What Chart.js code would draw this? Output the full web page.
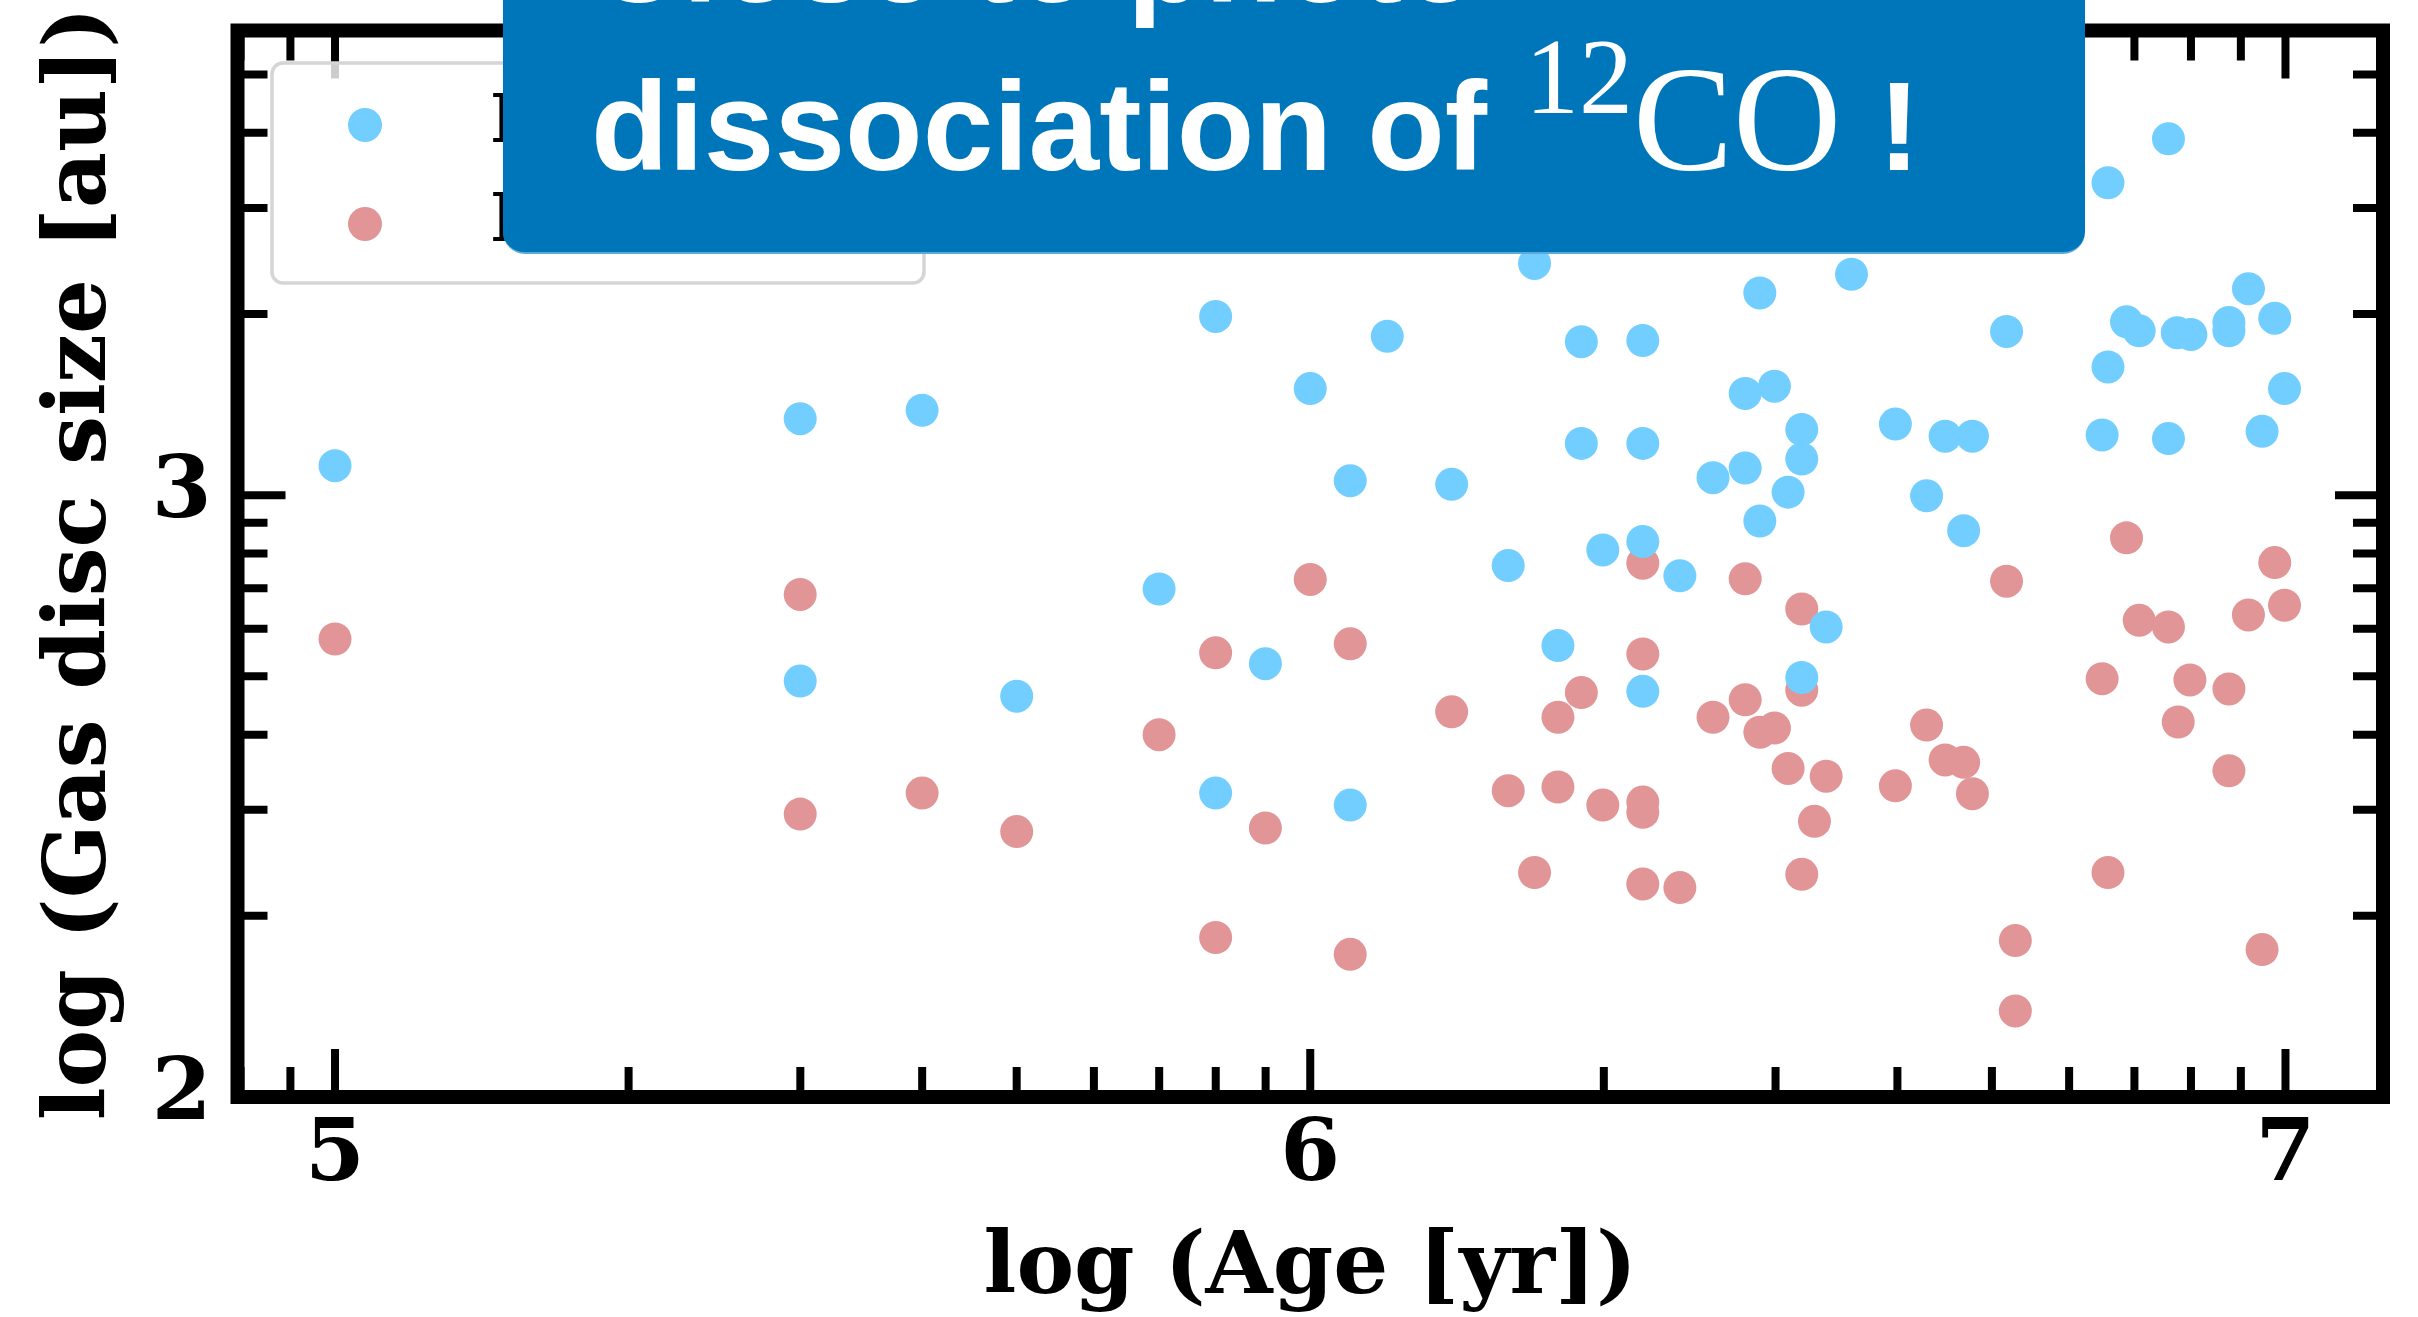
<!DOCTYPE html>
<html>
<head>
<meta charset="utf-8">
<script src="https://cdn.jsdelivr.net/npm/chart.js@4.4.1/dist/chart.umd.min.js"></script>
<style>
  html, body { margin: 0; padding: 0; background: #fff; }
  #wrap { position: relative; width: 2418px; height: 1317px; overflow: hidden; }
  #myChart { position: absolute; left: 0; top: 0; }
  .banner { position: absolute; left: 503px; top: -60px; width: 1582px; height: 314px;
            background: #0076ba; border-radius: 22px; box-sizing: border-box;
            border-bottom: 2px solid #5aa9db; }
  .t { position: absolute; white-space: nowrap; color: #fff; line-height: 1; }
  .sans { font-family: 'Liberation Sans', Arial, sans-serif; font-weight: bold; font-size: 127px; }
  .serif { font-family: 'Liberation Serif', 'Times New Roman', serif; font-weight: normal; }
</style>
</head>
<body>
<div id="wrap">
  <canvas id="myChart" width="2418" height="1317"></canvas>
  <div class="banner"></div>
  <div class="t sans" style="left:591px; top:-105px;">Close to photo-</div>
  <div class="t sans" style="left:591px; top:62.5px;">dissociation of</div>
  <div class="t serif" style="left:1525px; top:22.5px; font-size:108px;">12</div>
  <div class="t serif" style="left:1633px; top:44.4px; font-size:150px;">CO</div>
  <div class="t sans" style="left:1878px; top:62.5px;">!</div>
</div>
<script>
// log age [yr] and log gas disc size [au]
var blueAge = [5.000, 5.477, 5.602, 5.477, 5.699, 5.845, 5.903, 5.903, 5.954, 6.000,
               6.041, 6.041, 6.079, 6.145, 6.203, 6.230, 6.254, 6.278, 6.278, 6.300,
               6.341, 6.341, 6.341, 6.341, 6.379, 6.413, 6.446, 6.446, 6.461, 6.461,
               6.476, 6.490, 6.504, 6.504, 6.504, 6.529, 6.555, 6.600, 6.632, 6.651,
               6.670, 6.679, 6.714, 6.812, 6.818, 6.818, 6.837, 6.850, 6.880, 6.880,
               6.889, 6.903, 6.942, 6.942, 6.962, 6.976, 6.989, 6.999]
var blueSize = [3.049, 3.127, 3.141, 2.691, 2.666, 2.844, 3.297, 2.505, 2.720, 3.177,
                3.024, 2.485, 3.264, 3.018, 2.883, 3.385, 2.750, 3.255, 3.086, 2.909,
                3.257, 3.086, 2.923, 2.674, 2.866, 3.029, 3.169, 3.045, 3.336, 2.957,
                3.181, 3.005, 3.109, 3.060, 2.697, 2.781, 3.367, 3.118, 2.999, 3.098,
                2.941, 3.098, 3.272, 3.100, 3.519, 3.213, 3.288, 3.273, 3.592, 3.094,
                3.270, 3.267, 3.287, 3.273, 3.343, 3.106, 3.294, 3.177]

var redAge = [5.000, 5.477, 5.477, 5.602, 5.699, 5.845, 5.903, 5.903, 5.954, 6.000,
              6.041, 6.041, 6.145, 6.203, 6.230, 6.254, 6.254, 6.278, 6.300, 6.341,
              6.341, 6.341, 6.341, 6.341, 6.379, 6.413, 6.446, 6.446, 6.461, 6.476,
              6.490, 6.504, 6.504, 6.504, 6.517, 6.529, 6.600, 6.632, 6.651, 6.670,
              6.679, 6.714, 6.723, 6.723, 6.812, 6.818, 6.837, 6.850, 6.880, 6.890,
              6.902, 6.942, 6.942, 6.962, 6.976, 6.989, 6.999]
var redSize = [2.761, 2.835, 2.470, 2.505, 2.441, 2.602, 2.738, 2.265, 2.447, 2.860,
               2.753, 2.237, 2.640, 2.509, 2.373, 2.631, 2.515, 2.672, 2.485, 2.887,
               2.736, 2.490, 2.473, 2.354, 2.348, 2.631, 2.861, 2.660, 2.606, 2.613,
               2.546, 2.811, 2.676, 2.370, 2.458, 2.533, 2.517, 2.618, 2.560, 2.556,
               2.504, 2.857, 2.260, 2.143, 2.695, 2.373, 2.929, 2.792, 2.781, 2.623,
               2.693, 2.678, 2.542, 2.801, 2.245, 2.888, 2.817]

var xMajor = [5, 6, 7]
var yMajor = [2, 3]
var seriesNames = ['Radius without PD', 'Radius with PD']
var seriesColors = ['#72ceff', '#e29596']

// minor ticks sit at log10(k * 10^n), like a log axis
var minorMult = [2, 3, 4, 5, 6, 7, 8, 9]
function minorTicks(decades, lo, hi) {
    var out = []
    for (let d of decades) {
        for (let k of minorMult) {
            var v = d + Math.log10(k)
            if (v > lo && v < hi) out.push(v)
        }
    }
    return out
}

function makePoints(xs, ys) {
    var pts = []
    for (let i = 0; i < xs.length; i++) {
        pts.push({x: xs[i], y: ys[i]})
    }
    return pts
}

var tickFont = {family: 'DejaVu Serif', weight: 'bold', size: 86}
var titleFont = {family: 'DejaVu Serif', weight: 'bold', size: 86.5}

// frame, inward ticks on all four sides, and the legend box
const framePlugin = {
    id: 'frame',
    afterDatasetsDraw(chart) {
        const {ctx, chartArea: a, scales: {x, y}} = chart
        ctx.save()
        ctx.strokeStyle = '#000'
        ctx.lineCap = 'butt'
        ctx.lineWidth = 8

        function xTick(v, len) {
            var px = x.getPixelForValue(v)
            ctx.beginPath()
            ctx.moveTo(px, a.bottom); ctx.lineTo(px, a.bottom - len)
            ctx.moveTo(px, a.top); ctx.lineTo(px, a.top + len)
            ctx.stroke()
        }
        function yTick(v, len) {
            var py = y.getPixelForValue(v)
            ctx.beginPath()
            ctx.moveTo(a.left, py); ctx.lineTo(a.left + len, py)
            ctx.moveTo(a.right, py); ctx.lineTo(a.right - len, py)
            ctx.stroke()
        }
        minorTicks([4, 5, 6, 7], x.min, x.max).forEach(v => xTick(v, 30))
        minorTicks([2, 3], y.min, y.max).forEach(v => yTick(v, 30))
        xMajor.forEach(v => xTick(v, 48))
        yMajor.forEach(v => yTick(v, 48))

        ctx.lineWidth = 14
        ctx.lineJoin = 'miter'
        ctx.strokeRect(a.left, a.top, a.right - a.left, a.bottom - a.top)
        ctx.restore()
    },
    afterDraw(chart) {
        const ctx = chart.ctx
        ctx.save()
        ctx.beginPath()
        ctx.roundRect(272, 63, 652, 220, 11)
        ctx.fillStyle = 'rgba(255,255,255,0.8)'
        ctx.fill()
        ctx.lineWidth = 3.5
        ctx.strokeStyle = '#d5d5d5'
        ctx.stroke()

        var rows = [125, 224]
        ctx.font = 'bold 67px "DejaVu Serif"'
        ctx.textBaseline = 'alphabetic'
        ctx.textAlign = 'left'
        chart.data.datasets.forEach((ds, i) => {
            ctx.beginPath()
            ctx.arc(365, rows[i], 17, 0, Math.PI * 2)
            ctx.fillStyle = ds.backgroundColor
            ctx.fill()
            ctx.fillStyle = '#000'
            ctx.fillText(ds.label, 490, rows[i] + 17)
        })
        ctx.restore()
    }
}

const ctx = document.getElementById('myChart')

new Chart(ctx, {
    type: 'scatter',
    data: {
        datasets: [{
            label: seriesNames[0],
            data: makePoints(blueAge, blueSize),
            backgroundColor: seriesColors[0],
            pointRadius: 16.5,
            pointHoverRadius: 16.5,
            borderWidth: 0
        }, {
            label: seriesNames[1],
            data: makePoints(redAge, redSize),
            backgroundColor: seriesColors[1],
            pointRadius: 16.5,
            pointHoverRadius: 16.5,
            borderWidth: 0
        }]
    },
    options: {
        responsive: false,
        animation: false,
        devicePixelRatio: 1,
        events: [],
        layout: {padding: {left: 0, top: 30.5, right: 35, bottom: 0}},
        plugins: {
            legend: {display: false},
            tooltip: {enabled: false}
        },
        scales: {
            x: {
                type: 'linear',
                min: 4.9,
                max: 7.1,
                afterBuildTicks: s => { s.ticks = xMajor.map(v => ({value: v})) },
                afterFit: s => {
                    s.height = 1317 - 1097
                    s.paddingLeft = 0
                    s.paddingRight = 0
                },
                grid: {display: false, drawTicks: false},
                border: {display: false},
                ticks: {font: tickFont, color: '#000', padding: 9, maxRotation: 0,
                        callback: v => String(v)},
                title: {display: true, text: 'log (Age [yr])', font: titleFont, color: '#000',
                        padding: {top: 0, bottom: -5}}
            },
            y: {
                type: 'linear',
                min: 2,
                max: 3.772,
                afterBuildTicks: s => { s.ticks = yMajor.map(v => ({value: v})) },
                afterFit: s => {
                    s.width = 237.5
                    s.paddingTop = 0
                    s.paddingBottom = 0
                },
                grid: {display: false, drawTicks: false},
                border: {display: false},
                ticks: {font: tickFont, color: '#000', padding: 26,
                        callback: v => String(v)},
                title: {display: true, text: 'log (Gas disc size [au])', font: titleFont, color: '#000',
                        padding: {top: 31, bottom: 0}}
            }
        }
    },
    plugins: [framePlugin]
})
</script>
</body>
</html>
